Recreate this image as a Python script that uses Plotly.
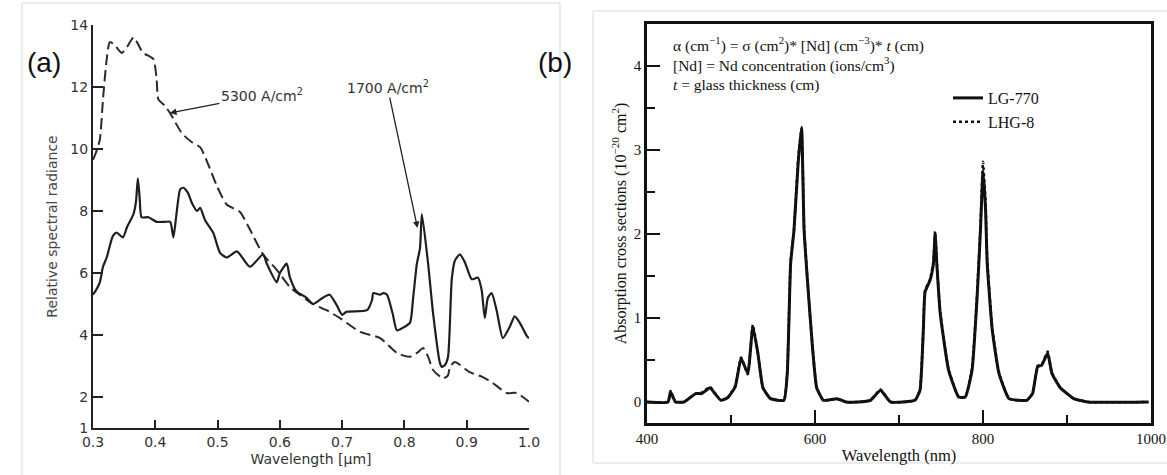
import plotly.graph_objects as go

W, H = 1167, 475

# ---------------- Panel (a) data ----------------
wl_5300 = [0.300, 0.305, 0.311, 0.316, 0.322, 0.327, 0.335, 0.346, 0.355, 0.365, 0.372, 0.380,
           0.390, 0.397, 0.402, 0.405, 0.415, 0.424, 0.443, 0.460, 0.472, 0.485, 0.499, 0.515,
           0.536, 0.552, 0.573, 0.595, 0.616, 0.632, 0.653, 0.675, 0.696, 0.729, 0.761, 0.788,
           0.809, 0.822, 0.830, 0.838, 0.846, 0.862, 0.870, 0.873, 0.881, 0.905, 0.925, 0.942,
           0.964, 0.980, 1.000]
rad_5300 = [9.65, 9.9, 10.3, 11.6, 12.9, 13.45, 13.35, 13.1, 13.3, 13.6, 13.4, 13.1,
            13.0, 12.9, 12.3, 11.6, 11.4, 11.15, 10.5, 10.2, 10.06, 9.5, 8.8, 8.2,
            7.97, 7.4, 6.6, 6.1, 5.55, 5.3, 5.0, 4.8, 4.55, 4.1, 3.9, 3.42,
            3.3, 3.45, 3.58, 3.3, 2.87, 2.6, 2.7, 2.97, 3.13, 2.8, 2.65, 2.45,
            2.13, 2.13, 1.85]

wl_1700 = [0.300, 0.305, 0.311, 0.316, 0.322, 0.332, 0.338, 0.348, 0.355, 0.365, 0.369, 0.372,
           0.375, 0.378, 0.389, 0.402, 0.415, 0.424, 0.429, 0.434, 0.440, 0.445, 0.452, 0.459,
           0.467, 0.472, 0.480, 0.493, 0.504, 0.515, 0.531, 0.552, 0.573, 0.579, 0.595, 0.600,
           0.611, 0.616, 0.627, 0.643, 0.653, 0.669, 0.680, 0.691, 0.700, 0.707, 0.740, 0.748,
           0.750, 0.761, 0.766, 0.772, 0.781, 0.788, 0.800, 0.809, 0.814, 0.820, 0.825, 0.828,
           0.838, 0.846, 0.857, 0.860, 0.865, 0.870, 0.876, 0.881, 0.889, 0.897, 0.908, 0.918,
           0.924, 0.929, 0.934, 0.940, 0.948, 0.958, 0.969, 0.977, 0.985, 0.997, 1.000]
rad_1700 = [5.3, 5.45, 5.7, 6.2, 6.5, 7.2, 7.3, 7.15, 7.5, 7.9, 8.3, 9.05,
            8.4, 7.8, 7.8, 7.65, 7.65, 7.65, 7.15, 7.9, 8.7, 8.75, 8.6, 8.25,
            8.0, 8.1, 7.7, 7.3, 6.65, 6.5, 6.7, 6.2, 6.6, 6.3, 5.7, 6.0,
            6.3, 5.87, 5.4, 5.2, 5.0, 5.2, 5.3, 4.97, 4.65, 4.75, 4.8, 5.13,
            5.35, 5.3, 5.35, 5.3, 4.7, 4.15, 4.26, 4.4, 5.2, 6.3, 6.8, 7.9,
            6.3, 4.7, 3.1, 2.97, 3.03, 3.3, 5.8, 6.4, 6.6, 6.35, 5.8, 5.85,
            5.45, 4.55, 5.2, 5.35, 4.8, 3.9, 4.26, 4.6, 4.4, 3.95, 3.9]

a_xticks = [0.3, 0.4, 0.5, 0.6, 0.7, 0.8, 0.9, 1.0]
a_yticks = [1, 2, 4, 6, 8, 10, 12, 14]

# ---------------- Panel (b) data ----------------
nm_lg770 = [400, 425, 428, 434, 444, 458, 465, 475, 481, 488, 496, 505, 512, 520, 526, 532, 538,
            547, 563, 567, 571, 575, 580, 584, 587, 591, 597, 602, 610, 626, 637, 651, 666, 678,
            690, 719, 725, 729, 731, 737, 741, 743, 745, 749, 759, 771, 779, 787, 793, 797, 800,
            803, 805, 811, 819, 831, 852, 859, 865, 870, 877, 882, 892, 908, 925, 997]
sig_lg770 = [0, 0, 0.12, 0, 0, 0.1, 0.1, 0.17, 0.1, 0.02, 0.05, 0.18, 0.52, 0.34, 0.9, 0.58, 0.17,
             0.04, 0.02, 0.34, 1.65, 2.05, 2.85, 3.27, 2.05, 1.45, 0.65, 0.17, 0.02, 0.04, 0, 0, 0.02, 0.14,
             0, 0.02, 0.14, 0.86, 1.31, 1.45, 1.65, 2.01, 1.65, 1.06, 0.38, 0.06, 0.06, 0.38, 1.25, 2.05, 2.75,
             2.3, 1.65, 0.86, 0.34, 0.04, 0.02, 0.1, 0.42, 0.44, 0.58, 0.34, 0.17, 0.04, 0, 0]
nm_lhg8 = [400, 425, 428, 434, 444, 458, 465, 475, 481, 488, 496, 505, 512, 520, 526, 532, 538,
           547, 563, 567, 571, 575, 580, 584, 587, 591, 597, 602, 610, 626, 637, 651, 666, 678,
           690, 719, 725, 729, 731, 737, 741, 743, 745, 749, 759, 771, 779, 787, 793, 797, 800,
           803, 805, 811, 819, 831, 852, 859, 865, 870, 877, 882, 892, 908, 925, 997]
sig_lhg8 = [0, 0, 0.13, 0, 0, 0.1, 0.11, 0.18, 0.1, 0.02, 0.05, 0.19, 0.53, 0.33, 0.92, 0.58, 0.17,
            0.04, 0.02, 0.36, 1.68, 2.05, 2.9, 3.25, 2.08, 1.45, 0.66, 0.17, 0.02, 0.04, 0, 0, 0.02, 0.15,
            0, 0.02, 0.15, 0.88, 1.33, 1.46, 1.68, 2.03, 1.66, 1.08, 0.39, 0.06, 0.06, 0.4, 1.3, 2.1, 2.86,
            2.4, 1.7, 0.88, 0.35, 0.04, 0.02, 0.1, 0.43, 0.45, 0.6, 0.35, 0.17, 0.04, 0, 0]

b_xticks = [400, 600, 800, 1000]
b_xminor = [500, 700, 900]
b_yticks = [0, 1, 2, 3, 4]
b_yminor = [0.5, 1.5, 2.5, 3.5]


def px(p):
    return p / W


def py(p):
    return 1 - p / H


SANS = "DejaVu Sans, Verdana, sans-serif"
SERIF = "Liberation Serif, Times New Roman, serif"

fig = go.Figure()

fig.add_trace(go.Scatter(x=wl_5300, y=rad_5300, mode="lines", name="5300 A/cm²",
                         line=dict(color="#2b2b2b", width=2, dash="11px,5px", shape="spline", smoothing=0.6),
                         xaxis="x", yaxis="y", showlegend=False))
fig.add_trace(go.Scatter(x=wl_1700, y=rad_1700, mode="lines", name="1700 A/cm²",
                         line=dict(color="#1e1e1e", width=2.2, shape="spline", smoothing=0.6),
                         xaxis="x", yaxis="y", showlegend=False))

fig.add_trace(go.Scatter(x=nm_lg770, y=sig_lg770, mode="lines", name="LG-770",
                         line=dict(color="#111111", width=3, shape="spline", smoothing=0.4),
                         xaxis="x2", yaxis="y2", showlegend=True))
fig.add_trace(go.Scatter(x=nm_lhg8, y=sig_lhg8, mode="lines", name="LHG-8",
                         line=dict(color="#111111", width=2.5, dash="dot", shape="spline", smoothing=0.4),
                         xaxis="x2", yaxis="y2", showlegend=True))

axis_a = dict(showline=True, linecolor="#222", linewidth=2, ticks="inside", tickwidth=2,
              tickcolor="#222", showgrid=False, zeroline=False, automargin=False,
              tickfont=dict(family=SANS, size=14, color="#333"))
axis_b = dict(showline=True, linecolor="#111", linewidth=2.5, mirror=True, ticks="inside",
              tickwidth=2, tickcolor="#111", ticklen=13, showgrid=False, zeroline=False,
              automargin=False, tickfont=dict(family=SERIF, size=15, color="#111"))

fig.update_layout(
    width=W, height=H,
    margin=dict(l=0, r=0, t=0, b=0),
    paper_bgcolor="white", plot_bgcolor="white",
    xaxis=dict(axis_a, domain=[px(93), px(529)], range=[0.3, 1.0], anchor="y",
               tickvals=a_xticks, ticktext=[f"{v:.1f}" for v in a_xticks], ticklen=8,
               title=dict(text="Wavelength [μm]", font=dict(family=SANS, size=14, color="#333"), standoff=5)),
    yaxis=dict(axis_a, domain=[py(428), py(25)], range=[1, 14], anchor="x",
               tickvals=a_yticks, ticktext=[str(v) for v in a_yticks], ticklen=10,
               title=dict(text="Relative spectral radiance", font=dict(family=SANS, size=14, color="#444"), standoff=9)),
    xaxis2=dict(axis_b, domain=[px(647), px(1151)], range=[400, 1000], anchor="y2",
                tickvals=b_xticks, ticktext=[str(v) for v in b_xticks],
                minor=dict(tickvals=b_xminor, ticks="inside", ticklen=8, tickwidth=2, tickcolor="#111"),
                title=dict(text="Wavelength (nm)", font=dict(family=SERIF, size=16.5, color="#111"), standoff=4)),
    yaxis2=dict(axis_b, domain=[py(423), py(24)], range=[-0.25, 4.5], anchor="x2",
                tickvals=b_yticks, ticktext=[str(v) for v in b_yticks],
                minor=dict(tickvals=b_yminor, ticks="inside", ticklen=8, tickwidth=2, tickcolor="#111"),
                title=dict(text="Absorption cross sections (10<sup>−20</sup> cm<sup>2</sup>)",
                           font=dict(family=SERIF, size=16, color="#111"), standoff=4)),
    legend=dict(x=px(948), y=py(81), xanchor="left", yanchor="top", bgcolor="rgba(0,0,0,0)",
                borderwidth=0, font=dict(family=SERIF, size=16, color="#111"), tracegroupgap=0),
)

# Panel frames (light gray borders of the two figure images)
frame = dict(type="line", xref="paper", yref="paper", line=dict(color="#d9d9d9", width=1), layer="below")
fig.add_shape(frame, x0=px(22), x1=px(560), y0=py(3), y1=py(3))
fig.add_shape(frame, x0=px(22), x1=px(22), y0=py(3), y1=0)
fig.add_shape(frame, x0=px(560), x1=px(560), y0=py(3), y1=0)
fig.add_shape(frame, x0=px(593), x1=1, y0=py(11), y1=py(11))
fig.add_shape(frame, x0=px(593), x1=px(593), y0=py(11), y1=py(463))
fig.add_shape(frame, x0=px(593), x1=1, y0=py(463), y1=py(463))

ann = []
ann.append(dict(text="(a)", xref="paper", yref="paper", x=px(25), y=py(45), showarrow=False,
                font=dict(family="Liberation Sans, Arial, sans-serif", size=28, color="#111")))
ann.append(dict(text="(b)", xref="paper", yref="paper", x=px(555), y=py(45), showarrow=False,
                font=dict(family="Liberation Sans, Arial, sans-serif", size=28, color="#111")))
ann.append(dict(text="5300 A/cm<sup>2</sup>", xref="x", yref="y", x=0.4236, y=11.16,
                ax=92, ay=-18, showarrow=True, arrowhead=2, arrowsize=1, arrowwidth=1.3,
                arrowcolor="#222", font=dict(family=SANS, size=14, color="#333")))
ann.append(dict(text="1700 A/cm<sup>2</sup>", xref="x", yref="y", x=0.821, y=7.45,
                ax=-30, ay=-141, showarrow=True, arrowhead=2, arrowsize=1, arrowwidth=1.3,
                arrowcolor="#222", font=dict(family=SANS, size=14, color="#333")))
b_lines = [
    "α (cm<sup>−1</sup>) = σ (cm<sup>2</sup>)* [Nd] (cm<sup>−3</sup>)* <i>t</i> (cm)",
    "[Nd] = Nd concentration (ions/cm<sup>3</sup>)",
    "<i>t</i> = glass thickness (cm)",
]
for t, yy in zip(b_lines, [45, 65, 85]):
    ann.append(dict(text=t, xref="paper", yref="paper", x=px(671), y=py(yy), xanchor="left",
                    yanchor="middle", showarrow=False, font=dict(family=SERIF, size=15.5, color="#111")))
fig.update_layout(annotations=ann)

fig.write_html("out.html")
